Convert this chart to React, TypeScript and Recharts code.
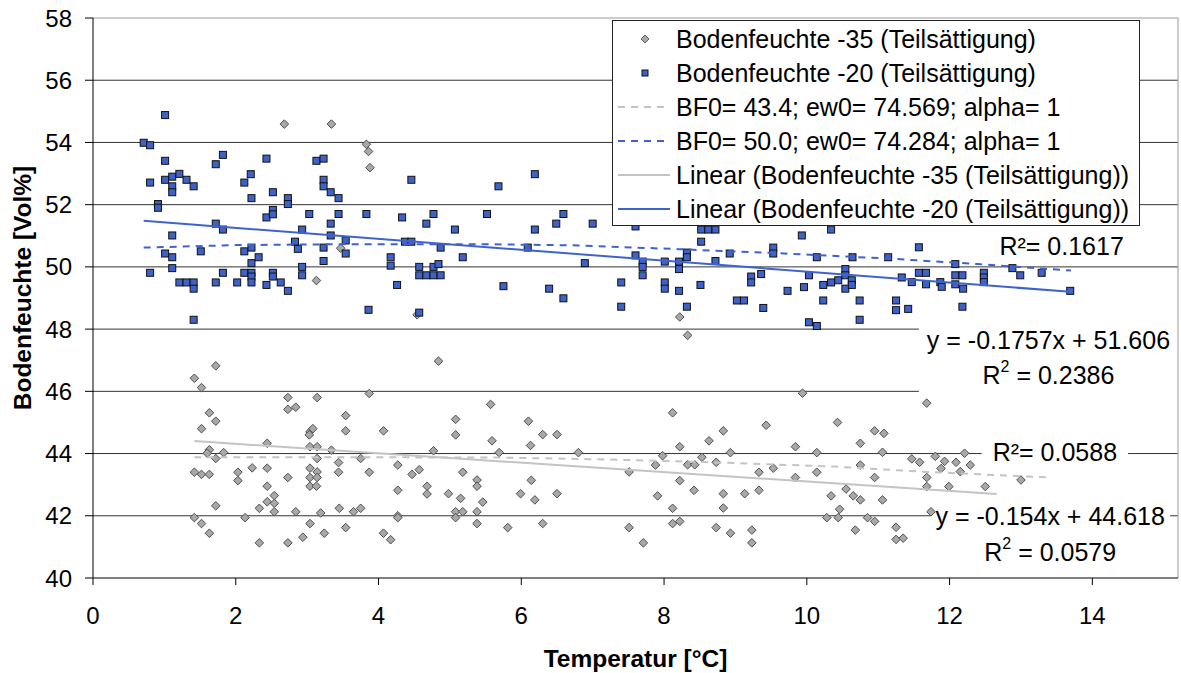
import React from 'react';
import {
  ScatterChart,
  Scatter,
  XAxis,
  YAxis,
  CartesianGrid,
  ReferenceLine,
  ReferenceArea,
  Legend,
} from 'recharts';

const FONT = '"Liberation Sans", Arial, Helvetica, sans-serif';

const xTicks = [0, 2, 4, 6, 8, 10, 12, 14];
const yTicks = [40, 42, 44, 46, 48, 50, 52, 54, 56, 58];
const gridValues = [42, 44, 46, 48, 50, 52, 54, 56];

const seriesNames = [
  'Bodenfeuchte -35 (Teilsättigung)',
  'Bodenfeuchte -20 (Teilsättigung)',
  'BF0= 43.4; ew0= 74.569; alpha= 1',
  'BF0= 50.0; ew0= 74.284; alpha= 1',
  'Linear (Bodenfeuchte -35 (Teilsättigung))',
  'Linear (Bodenfeuchte -20 (Teilsättigung))',
];

// Bodenfeuchte -35 (grey diamonds): [Temperatur, Bodenfeuchte]
const soil35: [number, number][] = [
  [2.68, 54.59], [3.34, 54.59], [3.83, 53.94], [3.86, 53.71], [3.88, 53.19], [3.13, 49.56], [3.47, 50.6], [4.54, 48.46],
  [8.22, 48.39], [8.33, 47.8], [11.68, 45.62], [11.08, 44.65], [11.06, 44.04], [11.47, 43.83], [11.58, 43.72], [11.8, 43.91],
  [11.93, 43.75], [12.21, 44.01], [12.09, 43.72], [11.88, 43.52], [12.29, 43.63], [12.15, 43.42], [11.68, 43.23], [11.68, 42.94],
  [11.99, 42.94], [12.5, 42.94], [13.0, 43.15], [11.06, 42.51], [11.74, 42.13], [11.25, 41.63], [11.25, 41.24], [11.35, 41.28],
  [1.42, 46.42], [1.52, 46.12], [1.72, 46.82], [1.63, 45.31], [1.72, 45.04], [1.52, 44.8], [1.63, 44.12], [1.6, 44.01],
  [1.72, 43.84], [1.83, 44.03], [1.42, 43.4], [1.52, 43.33], [1.63, 43.33], [1.72, 42.32], [1.42, 41.94], [1.52, 41.75],
  [1.63, 41.44], [2.03, 43.4], [2.03, 43.13], [2.23, 43.54], [2.13, 41.94], [2.44, 43.53], [2.44, 44.33], [2.44, 42.95],
  [2.33, 42.24], [2.44, 42.45], [2.54, 42.65], [2.54, 42.4], [2.54, 42.13], [2.33, 41.13], [2.73, 45.8], [2.73, 45.42],
  [2.84, 45.49], [2.73, 43.23], [2.84, 42.13], [2.73, 41.13], [2.94, 41.31], [3.14, 45.8], [3.04, 44.7], [3.08, 44.8],
  [3.03, 44.6], [3.04, 44.22], [3.14, 44.22], [3.14, 43.84], [3.04, 43.53], [3.14, 43.41], [3.04, 43.23], [3.14, 43.23],
  [3.04, 42.95], [3.13, 42.95], [3.04, 41.75], [3.24, 41.44], [3.19, 42.09], [3.34, 44.11], [3.44, 43.71], [3.44, 43.4],
  [3.54, 45.22], [3.54, 44.73], [3.45, 42.24], [3.65, 42.13], [3.75, 42.24], [3.54, 41.62], [3.75, 43.84], [3.87, 45.93],
  [3.87, 43.4], [4.07, 44.73], [4.07, 41.44], [4.17, 41.23], [4.27, 43.63], [4.27, 42.82], [4.27, 42.0], [4.27, 41.94],
  [4.47, 43.33], [4.57, 43.48], [4.68, 42.95], [4.68, 42.7], [4.77, 44.09], [4.84, 46.97], [4.98, 42.71], [5.08, 45.1],
  [5.08, 44.6], [5.18, 43.4], [5.15, 42.56], [5.08, 42.13], [5.18, 42.13], [5.08, 41.94], [5.38, 43.15], [5.38, 42.95],
  [5.57, 45.58], [5.59, 44.41], [5.69, 44.03], [5.46, 42.44], [5.38, 42.13], [5.38, 41.75], [5.81, 41.62], [9.94, 45.94],
  [6.1, 45.04], [6.13, 44.26], [6.3, 44.61], [6.5, 44.61], [6.8, 44.03], [6.14, 43.14], [5.99, 42.71], [6.19, 42.51],
  [6.5, 42.71], [6.3, 41.75], [7.51, 43.41], [7.51, 41.62], [7.71, 41.13], [7.91, 42.64], [7.88, 43.63], [7.98, 43.93],
  [8.12, 45.31], [8.22, 44.22], [8.22, 43.13], [8.12, 42.24], [8.12, 41.75], [8.22, 41.82], [8.33, 43.64], [8.43, 43.64],
  [8.53, 43.88], [8.42, 42.82], [8.63, 44.41], [8.73, 43.72], [8.73, 41.62], [8.83, 44.73], [8.83, 42.71], [8.83, 42.25],
  [8.93, 44.03], [8.93, 41.44], [9.13, 42.71], [9.23, 41.54], [9.23, 41.13], [9.33, 43.4], [9.33, 42.82], [9.43, 44.91],
  [9.53, 43.53], [9.84, 44.22], [9.84, 43.23], [10.14, 44.03], [10.14, 43.4], [10.34, 42.64], [10.43, 45.0], [10.55, 42.86],
  [10.65, 42.64], [10.75, 42.51], [10.46, 42.21], [10.28, 41.94], [10.44, 41.94], [10.68, 41.54], [10.85, 41.94], [10.95, 41.82],
  [10.75, 44.33], [10.75, 43.63], [10.95, 44.73], [10.95, 43.23],
];

// Bodenfeuchte -20 (blue squares)
const soil20: [number, number][] = [
  [1.01, 54.88], [0.71, 53.99], [0.8, 53.91], [1.01, 53.41], [0.8, 52.71], [1.01, 52.8], [1.11, 52.9], [1.21, 52.99],
  [1.31, 52.8], [1.41, 52.59], [1.11, 52.59], [1.11, 52.4], [0.91, 52.02], [0.91, 51.9], [1.72, 53.3], [1.82, 53.6],
  [2.43, 53.48], [1.72, 51.39], [1.82, 51.2], [1.11, 51.01], [1.01, 50.43], [1.11, 50.31], [1.11, 49.96], [0.8, 49.81],
  [1.21, 49.5], [1.31, 49.5], [1.41, 49.5], [1.41, 49.3], [1.41, 48.3], [1.51, 50.5], [1.72, 49.5], [1.82, 49.81],
  [2.02, 49.5], [2.12, 49.81], [2.22, 49.81], [2.22, 49.69], [2.22, 49.5], [2.22, 50.12], [2.32, 50.31], [2.12, 50.5],
  [2.22, 50.62], [2.12, 52.71], [2.21, 52.98], [2.22, 52.21], [2.43, 51.59], [2.52, 51.83], [2.52, 51.69], [2.52, 52.4],
  [2.43, 49.42], [2.52, 49.81], [2.52, 49.69], [2.63, 49.5], [2.73, 49.23], [2.73, 52.21], [2.73, 52.02], [2.83, 50.81],
  [2.87, 50.58], [2.93, 51.2], [2.93, 50.0], [2.93, 49.73], [3.03, 51.7], [3.13, 53.41], [3.23, 53.48], [3.23, 52.8],
  [3.23, 52.59], [3.33, 52.4], [3.44, 52.21], [3.44, 51.7], [3.33, 51.39], [3.33, 51.01], [3.23, 50.62], [3.23, 50.19],
  [3.54, 50.85], [3.54, 50.43], [3.83, 51.7], [3.86, 48.62], [4.17, 50.31], [4.17, 50.04], [4.26, 49.42], [4.33, 51.59],
  [4.46, 52.8], [4.37, 50.81], [4.46, 50.81], [4.67, 51.39], [4.77, 51.7], [4.57, 50.0], [4.77, 50.0], [4.84, 50.09],
  [4.57, 49.73], [4.67, 49.73], [4.77, 49.73], [4.87, 49.73], [4.87, 50.62], [4.57, 48.53], [5.07, 51.2], [5.18, 50.31],
  [5.52, 51.7], [6.19, 52.98], [5.68, 52.59], [6.59, 51.7], [6.49, 51.39], [6.19, 51.2], [7.0, 51.39], [7.6, 51.3],
  [8.52, 51.2], [8.62, 51.2], [8.72, 51.2], [8.52, 50.81], [9.93, 51.01], [10.34, 51.2], [6.09, 50.62], [6.89, 50.12],
  [7.6, 50.37], [7.7, 50.17], [7.7, 50.0], [7.7, 49.73], [8.01, 50.17], [8.21, 50.17], [8.21, 49.93], [8.32, 50.46],
  [8.32, 50.31], [8.72, 50.19], [8.92, 50.43], [9.53, 50.62], [9.53, 50.43], [10.14, 50.31], [10.64, 50.31], [11.14, 50.31],
  [5.75, 49.38], [6.39, 49.3], [6.59, 48.99], [7.4, 49.5], [7.4, 48.72], [8.01, 49.5], [8.01, 49.3], [8.21, 49.23],
  [8.32, 48.72], [8.51, 49.42], [9.02, 48.92], [9.12, 48.92], [9.22, 49.69], [9.22, 49.5], [9.36, 49.77], [9.39, 48.68],
  [9.73, 49.23], [9.96, 49.35], [10.03, 49.73], [10.23, 49.42], [10.34, 49.5], [10.44, 49.57], [10.54, 49.93], [10.54, 49.73],
  [10.54, 49.3], [10.63, 49.57], [10.63, 49.42], [10.23, 48.92], [10.74, 48.92], [10.74, 48.3], [10.03, 48.22], [10.14, 48.1],
  [11.25, 48.92], [11.25, 48.61], [11.57, 50.63], [12.08, 50.09], [11.57, 49.81], [11.67, 49.81], [12.08, 49.73], [12.18, 49.73],
  [12.48, 49.81], [12.48, 49.66], [12.88, 49.96], [12.99, 49.73], [13.29, 49.81], [11.33, 49.66], [11.47, 49.51], [11.67, 49.44],
  [11.87, 49.51], [11.89, 49.36], [12.08, 49.44], [12.19, 49.3], [12.48, 49.51], [13.69, 49.23], [11.42, 48.65], [12.18, 48.72],
];

// model curves (dashed)
const model35: [number, number][] = [
  [1.42, 43.88], [4.0, 43.88], [5.7, 43.87], [7.0, 43.82], [8.4, 43.74], [10.4, 43.58], [11.6, 43.42], [13.4, 43.23],
];
const model20: [number, number][] = [
  [0.71, 50.62], [2.0, 50.7], [3.5, 50.73], [5.5, 50.73], [6.8, 50.69], [8.2, 50.57], [9.6, 50.44], [11.2, 50.26], [12.4, 50.09], [13.7, 49.88],
];
// linear trend lines (end points)
const linear35: [number, number][] = [[1.42, 44.4], [12.66, 42.7]];
const linear20: [number, number][] = [[0.71, 51.48], [13.69, 49.2]];

const toRows = (pts: [number, number][]) => pts.map(([x, y]) => ({ x, y }));

const GREY_FILL = '#A8A8A8';
const GREY_LINE = '#C4C4C4';
const BLUE_FILL = '#3F62C9';
const BLUE_LINE = '#3E63CF';

const Diamond = (p: any) => {
  const { cx, cy } = p;
  if (cx == null || cy == null) return <g />;
  const r = 4.3;
  return (
    <path
      d={`M${cx},${cy - r}L${cx + r},${cy}L${cx},${cy + r}L${cx - r},${cy}Z`}
      fill={GREY_FILL}
      stroke="#505050"
      strokeWidth={1}
    />
  );
};

const Square = (p: any) => {
  const { cx, cy } = p;
  if (cx == null || cy == null) return <g />;
  return <rect x={cx - 3.5} y={cy - 3.5} width={7} height={7} fill={BLUE_FILL} stroke="#111" strokeWidth={1} />;
};

const NoShape = () => <g />;

const LegendBox = () => {
  const rowH = 34;
  const sample = (i: number) => {
    if (i === 0)
      return <path d="M28,17 L32,13 L36,17 L32,21 Z" fill={GREY_FILL} stroke="#606060" strokeWidth={1} />;
    if (i === 1) return <rect x={29} y={14} width={6} height={6} fill={BLUE_FILL} stroke="#111" strokeWidth={1} />;
    const color = i === 2 || i === 4 ? GREY_LINE : BLUE_LINE;
    const dash = i < 4 ? '7 6' : undefined;
    return <line x1={5} x2={57} y1={17} y2={17} stroke={color} strokeWidth={2} strokeDasharray={dash} />;
  };
  return (
    <div
      style={{
        boxSizing: 'border-box',
        width: 528,
        height: 206,
        border: '1px solid #222',
        background: '#fff',
        paddingTop: 1,
        fontFamily: FONT,
        fontSize: 25,
        color: '#000',
      }}
    >
      {seriesNames.map((name, i) => (
        <div key={name} style={{ height: rowH, display: 'flex', alignItems: 'center', position: 'relative' }}>
          <svg width={62} height={rowH} style={{ flex: '0 0 auto' }}>
            {sample(i)}
          </svg>
          <span style={{ whiteSpace: 'nowrap', lineHeight: `${rowH}px`, marginLeft: 1 }}>{name}</span>
        </div>
      ))}
    </div>
  );
};

type Ann = { x1: number; x2: number; y1: number; y2: number; lines: { text: string; dy: number; sup?: boolean }[] };

const annotations: Ann[] = [
  { x1: 12.71, x2: 14.43, y1: 50.3, y2: 51.1, lines: [{ text: 'R²= 0.1617', dy: 13 }] },
  {
    x1: 11.57, x2: 15.2, y1: 45.66, y2: 48.36,
    lines: [
      { text: 'y = -0.1757x + 51.606', dy: 22 },
      { text: ' = 0.2386', dy: 57, sup: true },
    ],
  },
  { x1: 12.45, x2: 14.5, y1: 43.63, y2: 44.44, lines: [{ text: 'R²= 0.0588', dy: 12.5 }] },
  {
    x1: 11.73, x2: 15.09, y1: 40.26, y2: 42.51,
    lines: [
      { text: 'y = -0.154x + 44.618', dy: 16.5 },
      { text: ' = 0.0579', dy: 52, sup: true },
    ],
  },
];

const makeAnnLabel = (a: Ann) => (props: any) => {
  const vb = props.viewBox || {};
  const cx = vb.x + vb.width / 2;
  return (
    <g>
      {a.lines.map((l, i) => (
        <text
          key={i}
          x={cx}
          y={vb.y + l.dy}
          textAnchor="middle"
          dominantBaseline="central"
          fontFamily={FONT}
          fontSize={25}
          fill="#000"
        >
          {l.sup ? (
            <>
              R<tspan fontSize={16} dy={-9}>2</tspan>
              <tspan dy={9}>{l.text}</tspan>
            </>
          ) : (
            l.text
          )}
        </text>
      ))}
    </g>
  );
};

const XTitle = (props: any) => {
  const vb = props.viewBox || {};
  return (
    <text
      x={vb.x + vb.width / 2}
      y={vb.y + vb.height - 6}
      textAnchor="middle"
      fontFamily={FONT}
      fontWeight="bold"
      fontSize={24.5}
      fill="#000"
    >
      Temperatur [°C]
    </text>
  );
};

const YTitle = (props: any) => {
  const vb = props.viewBox || {};
  const x = vb.x + 9;
  const y = vb.y + vb.height / 2 - 10;
  return (
    <text
      x={x}
      y={y}
      transform={`rotate(-90 ${x} ${y})`}
      textAnchor="middle"
      dominantBaseline="central"
      fontFamily={FONT}
      fontWeight="bold"
      fontSize={24.5}
      fill="#000"
    >
      Bodenfeuchte [Vol%]
    </text>
  );
};

export default function App() {
  return (
    <div style={{ position: 'absolute', left: 0, top: 0, width: 1181, height: 673, background: '#fff' }}>
      <ScatterChart width={1181} height={673} margin={{ top: 18, right: 3, bottom: 0, left: 13 }}>
        <CartesianGrid vertical={false} horizontalValues={gridValues} stroke="#333" strokeWidth={1} />
        <XAxis
          type="number"
          dataKey="x"
          domain={[0, 15.2]}
          ticks={xTicks}
          interval={0}
          allowDataOverflow
          height={95}
          tickSize={7}
          tickMargin={22}
          axisLine={{ stroke: '#000' }}
          tickLine={{ stroke: '#000' }}
          tick={{ fill: '#000', fontSize: 24, fontFamily: FONT }}
          label={{ content: XTitle }}
        />
        <YAxis
          type="number"
          dataKey="y"
          domain={[40, 58]}
          ticks={yTicks}
          interval={0}
          allowDataOverflow
          width={80}
          tickSize={8}
          tickMargin={13}
          axisLine={{ stroke: '#000' }}
          tickLine={{ stroke: '#000' }}
          tick={{ fill: '#000', fontSize: 24, fontFamily: FONT }}
          label={{ content: YTitle }}
        />
        <ReferenceLine y={58} stroke="#9a9a9a" />
        <ReferenceLine x={15.2} stroke="#9a9a9a" />
        <Scatter name={seriesNames[0]} data={toRows(soil35)} shape={Diamond} isAnimationActive={false} />
        <Scatter name={seriesNames[1]} data={toRows(soil20)} shape={Square} isAnimationActive={false} />
        <Scatter
          name={seriesNames[2]}
          data={toRows(model35)}
          shape={NoShape}
          line={{ stroke: GREY_LINE, strokeWidth: 2, strokeDasharray: '7 6' }}
          lineType="joint"
          isAnimationActive={false}
        />
        <Scatter
          name={seriesNames[3]}
          data={toRows(model20)}
          shape={NoShape}
          line={{ stroke: BLUE_LINE, strokeWidth: 2, strokeDasharray: '7 6' }}
          lineType="joint"
          isAnimationActive={false}
        />
        <Scatter
          name={seriesNames[4]}
          data={toRows(linear35)}
          shape={NoShape}
          line={{ stroke: GREY_LINE, strokeWidth: 2 }}
          lineType="joint"
          isAnimationActive={false}
        />
        <Scatter
          name={seriesNames[5]}
          data={toRows(linear20)}
          shape={NoShape}
          line={{ stroke: BLUE_LINE, strokeWidth: 2 }}
          lineType="joint"
          isAnimationActive={false}
        />
        {annotations.map((a, i) => (
          <ReferenceArea
            key={i}
            x1={a.x1}
            x2={a.x2}
            y1={a.y1}
            y2={a.y2}
            fill="#fff"
            fillOpacity={1}
            stroke="none"
            label={makeAnnLabel(a)}
          />
        ))}
        <Legend
          layout="horizontal"
          verticalAlign="middle"
          align="center"
          wrapperStyle={{ left: 612, top: 20, width: 528, height: 206 }}
          content={() => <LegendBox />}
        />
      </ScatterChart>
    </div>
  );
}
